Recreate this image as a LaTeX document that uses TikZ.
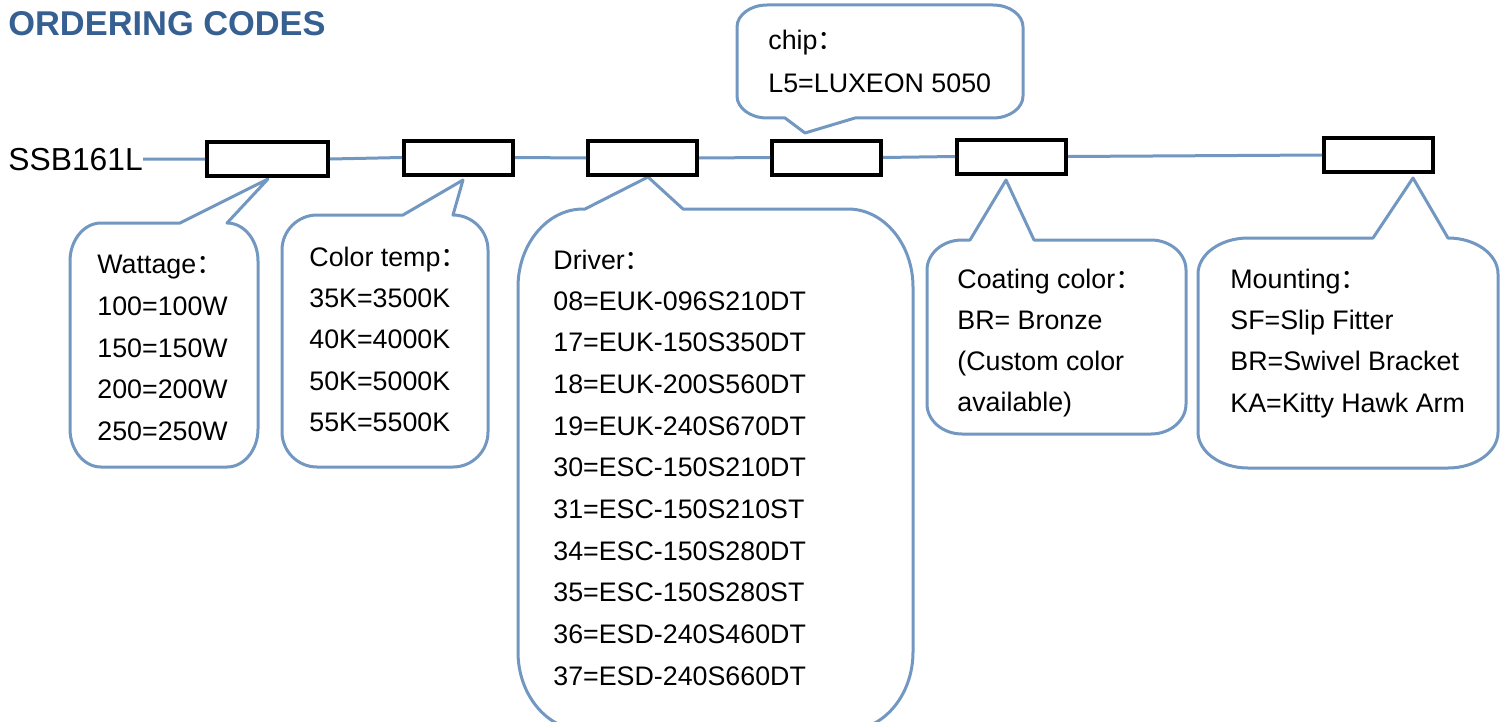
\documentclass[tikz,border=0pt]{standalone}
\usepackage{fontspec}
\setmainfont{Liberation Sans}
\newfontfamily\cjk{Noto Sans CJK SC}
\definecolor{titleblue}{RGB}{55,96,146}
\definecolor{coline}{RGB}{114,152,194}
\newcommand\fcolon{{\cjk ：}}
% callout with tail on the top edge: L T R B rx ry leftbase tip rightbase
\newcommand\bubbletop[9]{%
\draw[co] (#7,#2) -- (#8) -- (#9,#2) -- ({#3-#5},#2)
 .. controls ({#3-0.45*#5},#2) and (#3,{#2+0.45*#6}) .. (#3,{#2+#6})
 -- (#3,{#4-#6}) .. controls (#3,{#4-0.45*#6}) and ({#3-0.45*#5},#4) .. ({#3-#5},#4)
 -- ({#1+#5},#4) .. controls ({#1+0.45*#5},#4) and (#1,{#4-0.45*#6}) .. (#1,{#4-#6})
 -- (#1,{#2+#6}) .. controls (#1,{#2+0.45*#6}) and ({#1+0.45*#5},#2) .. ({#1+#5},#2)
 -- cycle;}
% callout with tail on the bottom edge: L T R B rx ry rightbase tip leftbase
\newcommand\bubblebot[9]{%
\draw[co] (#7,#4) -- (#8) -- (#9,#4) -- ({#1+#5},#4)
 .. controls ({#1+0.45*#5},#4) and (#1,{#4-0.45*#6}) .. (#1,{#4-#6})
 -- (#1,{#2+#6}) .. controls (#1,{#2+0.45*#6}) and ({#1+0.45*#5},#2) .. ({#1+#5},#2)
 -- ({#3-#5},#2) .. controls ({#3-0.45*#5},#2) and (#3,{#2+0.45*#6}) .. (#3,{#2+#6})
 -- (#3,{#4-#6}) .. controls (#3,{#4-0.45*#6}) and ({#3-0.45*#5},#4) .. ({#3-#5},#4)
 -- cycle;}
\begin{document}
\begin{tikzpicture}[x=0.5pt,y=-0.5pt,
  co/.style={draw=coline, line width=1.5pt, fill=white, line join=round},
  codebox/.style={draw=black, line width=2pt, fill=white, inner sep=0pt, minimum height=17pt, minimum width=54.5pt},
  link/.style={draw=coline, line width=1.5pt},
  txt/.style={anchor=base west, inner sep=0pt, font=\fontsize{13.4}{16}\selectfont}]
\useasboundingbox (0,0) rectangle (1503,722);
\clip (0,0) rectangle (1503,722);
\fill[white] (0,0) rectangle (1503,722);

% callouts
\bubbletop{70}{223}{258}{467}{31}{38}{180}{268,179}{227}
\bubbletop{282}{215}{488}{467}{35}{35}{403}{463,180}{453}
\bubbletop{518}{209}{913}{730}{65}{78}{585}{648,177}{683}
\bubbletop{927}{240}{1186}{434}{35}{30}{970}{1006,180}{1034}
\bubbletop{1198}{238}{1498}{468}{50}{36}{1373}{1413,178}{1448}
\bubblebot{737}{5}{1023}{118}{30}{22}{855}{805,133}{785}

% title and code
\node[anchor=base west, inner sep=0pt, font=\fontsize{17.2}{20}\selectfont\bfseries, text=titleblue] (title) at (8,36) {ORDERING CODES};
\node[anchor=base west, inner sep=0pt, font=\fontsize{15.9}{19}\selectfont] (code) at (8,170) {SSB161L};

% boxes
\node[codebox, minimum width=60.5pt] (b1) at (267.5,159) {};
\node[codebox] (b2) at (458.5,157.5) {};
\node[codebox] (b3) at (642.5,158) {};
\node[codebox] (b4) at (826.5,157.5) {};
\node[codebox] (b5) at (1011.5,156.5) {};
\node[codebox] (b6) at (1378.5,155) {};

% links
\draw[link] (code.east) -- (b1.west);
\draw[link] (b1.east) -- (b2.west);
\draw[link] (b2.east) -- (b3.west);
\draw[link] (b3.east) -- (b4.west);
\draw[link] (b4.east) -- (b5.west);
\draw[link] (b5.east) -- (b6.west);

% Wattage
\node[txt] (w0) at (97,273) {Wattage\fcolon};
\node[txt] (w1) at (97,315) {100=100W};
\node[txt] (w2) at (97,357) {150=150W};
\node[txt] (w3) at (97,398) {200=200W};
\node[txt] (w4) at (97,440) {250=250W};

% Color temp
\node[txt] (t0) at (309,266) {Color temp\fcolon};
\node[txt] (t1) at (309,307) {35K=3500K};
\node[txt] (t2) at (309,348) {40K=4000K};
\node[txt] (t3) at (309,390) {50K=5000K};
\node[txt] (t4) at (309,431) {55K=5500K};

% Driver
\node[txt] (d0) at (553,269) {Driver\fcolon};
\foreach \t [count=\i] in {08=EUK-096S210DT,17=EUK-150S350DT,18=EUK-200S560DT,19=EUK-240S670DT,30=ESC-150S210DT,31=ESC-150S210ST,34=ESC-150S280DT,35=ESC-150S280ST,36=ESD-240S460DT,37=ESD-240S660DT}
  \node[txt] (d\i) at (553,{310+41.7*(\i-1)}) {\t};

% chip
\node[txt] (c0) at (768,50) {chip\fcolon};
\node[txt] (c1) at (768,92) {L5=LUXEON 5050};

% Coating
\node[txt] (k0) at (957,288) {Coating color\fcolon};
\node[txt] (k1) at (957,329) {BR= Bronze};
\node[txt] (k2) at (957,370) {(Custom color};
\node[txt] (k3) at (957,411) {available)};

% Mounting
\node[txt] (m0) at (1230,288) {Mounting\fcolon};
\node[txt] (m1) at (1230,329) {SF=Slip Fitter};
\node[txt] (m2) at (1230,370) {BR=Swivel Bracket};
\node[txt] (m3) at (1230,412) {KA=Kitty Hawk Arm};
\end{tikzpicture}
\end{document}
